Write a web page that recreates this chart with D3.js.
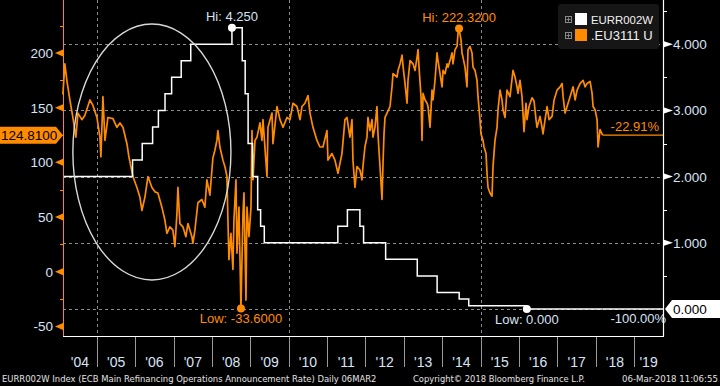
<!DOCTYPE html>
<html><head><meta charset="utf-8">
<script src="https://cdn.jsdelivr.net/npm/d3@7"></script>
<style>html,body{margin:0;padding:0;background:#000;overflow:hidden}svg{display:block}</style>
</head><body>
<svg id="c" width="720" height="386"></svg>
<script>
// ---------------- DATA ----------------
const seriesOrangeName = ".EU3111 U";
const seriesWhiteName = "EURR002W";
const xStart = "2004-02-13", xEnd = "2019-10-03";
// .EU3111 U (time as decimal year)
const orangeTimes = [2004.114,2004.166,2004.218,2004.296,2004.374,2004.453,2004.505,2004.609,2004.687,2004.818,2004.896,
2005.000,2005.078,2005.104,2005.156,2005.209,2005.287,2005.417,2005.521,2005.600,2005.678,2005.782,2005.834,2005.886,2005.938,
2006.043,2006.121,2006.173,2006.251,2006.330,2006.434,2006.512,2006.590,2006.694,2006.773,2006.825,2006.903,2006.981,
2007.033,2007.086,2007.112,2007.164,2007.242,2007.320,2007.372,2007.477,2007.503,2007.555,2007.633,2007.737,2007.815,2007.868,2007.946,
2008.024,2008.076,2008.128,2008.154,2008.206,2008.285,2008.337,2008.389,2008.415,2008.441,2008.493,2008.545,2008.571,2008.624,2008.650,2008.702,2008.754,2008.806,2008.832,2008.884,2008.910,2008.962,
2009.015,2009.041,2009.067,2009.119,2009.171,2009.249,2009.301,2009.327,2009.432,2009.458,2009.562,2009.588,2009.692,2009.771,2009.849,2009.953,
2010.031,2010.110,2010.214,2010.292,2010.344,2010.422,2010.501,2010.553,2010.631,2010.735,2010.813,2010.892,2010.996,
2011.022,2011.126,2011.204,2011.283,2011.387,2011.465,2011.517,2011.595,2011.648,2011.674,2011.726,2011.778,2011.856,2011.908,2011.934,2011.986,
2012.039,2012.065,2012.117,2012.169,2012.195,2012.247,2012.299,2012.325,2012.378,2012.430,2012.456,2012.482,2012.508,2012.560,2012.638,2012.690,2012.716,2012.821,2012.847,2012.899,2012.951,2012.977,
2013.029,2013.081,2013.107,2013.160,2013.238,2013.290,2013.342,2013.368,2013.394,2013.446,2013.472,2013.498,2013.551,2013.603,2013.629,2013.681,2013.733,2013.759,2013.811,2013.863,2013.889,2013.942,2013.994,
2014.020,2014.072,2014.124,2014.150,2014.202,2014.254,2014.280,2014.333,2014.385,2014.411,2014.437,2014.489,2014.515,2014.541,2014.593,2014.645,2014.671,2014.724,2014.776,2014.802,2014.854,2014.906,2014.932,2014.984,
2015.010,2015.063,2015.089,2015.141,2015.167,2015.193,2015.245,2015.297,2015.323,2015.375,2015.428,2015.454,2015.506,2015.558,2015.584,2015.636,2015.688,2015.766,2015.845,2015.897,2015.949,2015.975,
2016.027,2016.079,2016.105,2016.131,2016.183,2016.209,2016.262,2016.340,2016.392,2016.444,2016.470,2016.548,2016.600,2016.626,2016.679,2016.731,2016.783,2016.861,2016.913,2016.991,
2017.070,2017.122,2017.148,2017.200,2017.252,2017.330,2017.409,2017.461,2017.513,2017.591,2017.669,2017.721,2017.773,2017.852,2017.904,2017.930,2017.982,
2018.034,2018.060,2018.112,2018.178];
const orangeValues = [161.9,190,175,157,141,123,145,139,143,157,152,
141,123,105,160,120,141,140,132,136,132,117,105,96,87,
77,68,56,68,87,77,73,72,59,47,35,41,38,
23,53,77,44,41,32,44,32,26,38,63,66,59,84,70,
104,111,120,129,114,102,96,87,47,11,35,2,47,84,17,59,-33.6,53,72,-26,59,32,
59,129,84,120,123,136,120,139,87,132,145,117,151,139,132,141,
139,154,151,139,151,154,161,145,132,120,114,114,129,
102,108,102,90,108,139,141,123,139,102,77,96,93,84,96,114,
123,141,129,139,123,132,151,126,96,66,99,126,141,145,151,169,181,178,184,190,198,188,
172,154,175,193,190,184,196,203,187,160,120,163,157,154,151,132,166,157,175,200,193,181,169,
184,181,190,187,193,200,190,203,206,218,222.32,212,200,196,187,169,203,206,200,187,184,175,160,139,
126,120,114,108,90,77,72,69,96,120,132,148,166,157,148,141,166,160,184,178,169,163,
175,160,145,128,154,139,151,159,156,139,132,142,132,126,139,151,139,142,157,166,
169,172,160,145,151,160,169,157,166,172,175,169,172,174,163,151,148,
139,114,130,124.81];
// EURR002W - ECB main refinancing rate (step changes)
const rateDates = ["2004-02-13","2005-12-06","2006-03-08","2006-06-15","2006-08-09","2006-10-11","2006-12-13","2007-03-14","2007-06-13",
"2008-07-09","2008-10-15","2008-11-12","2008-12-10","2009-01-21","2009-03-11","2009-04-08","2009-05-13",
"2011-04-13","2011-07-13","2011-11-09","2011-12-14","2012-07-11","2013-05-08","2013-11-13","2014-06-11","2014-09-10","2016-03-16","2018-03-06"];
const rateValues = [2.00,2.25,2.50,2.75,3.00,3.25,3.50,3.75,4.00,
4.25,3.75,3.25,2.50,2.00,1.50,1.25,1.00,
1.25,1.50,1.25,1.00,0.75,0.50,0.25,0.15,0.05,0.00,0.00];
const yearLabels = ["'04","'05","'06","'07","'08","'09","'10","'11","'12","'13","'14","'15","'16","'17","'18","'19"];
const years = [2004,2005,2006,2007,2008,2009,2010,2011,2012,2013,2014,2015,2016,2017,2018,2019];
const gridYears = [2005,2010,2015];
const leftMajorTicks = [-50,0,50,100,150,200];
const leftMinorTicks = [-25,25,75,125,175,225];
const rightMajorTicks = [1,2,3,4];
const rightGridTicks = [0,1,2,3,4];
const rightMinorTicks = [0.5,1.5,2.5,3.5,4.5];
const leftDomain = [-58.8, 248.4];
const rightDomain = [-0.408, 4.668];
// hand-drawn ellipse annotation (bounding box in data units)
const ellipseTimes = [2004.374, 2008.493];
const ellipseValues = [-7.6, 226.4];
const footerLeft = "EURR002W Index (ECB Main Refinancing Operations Announcement Rate)  Daily 06MAR2";
const footerMid = "Copyright\u00A9 2018 Bloomberg Finance L.P.";
const footerRight = "06-Mar-2018 11:06:55";

// ---------------- RENDER ----------------
const ORANGE = "#ff8c00", WHITE = "#ffffff", LBLUE = "#d6e4f6", GRID = "#8c8c8c";
const L = 63, R = 663, T = 0, B = 336;
const FONT = "'Liberation Sans', Arial, sans-serif";
const svg = d3.select("#c");
svg.append("rect").attr("width",720).attr("height",386).attr("fill","#000");

const parse = d3.timeParse("%Y-%m-%d");
function decYear(t){const y=Math.floor(t);const s=new Date(y,0,1),e=new Date(y+1,0,1);return new Date(+s+(t-y)*(e-s));}
const x = d3.scaleTime().domain([parse(xStart), parse(xEnd)]).range([L, R]);
const yL = d3.scaleLinear().domain(leftDomain).range([B, T]);
const yR = d3.scaleLinear().domain(rightDomain).range([B, T]);

const orange = orangeTimes.map((t,i)=>({d:decYear(t), v:orangeValues[i]}));
const rate = rateDates.map((s,i)=>({d:parse(s), v:rateValues[i]}));

// gridlines
const g = svg.append("g");
g.selectAll("line.h").data(rightGridTicks).join("line")
  .attr("x1",L).attr("x2",R).attr("y1",d=>Math.round(yR(d))+0.5).attr("y2",d=>Math.round(yR(d))+0.5)
  .attr("stroke",GRID).attr("stroke-dasharray","3,3").attr("stroke-width",1);
g.selectAll("line.v").data(gridYears).join("line")
  .attr("x1",d=>Math.round(x(new Date(d,0,1)))+0.5).attr("x2",d=>Math.round(x(new Date(d,0,1)))+0.5)
  .attr("y1",T).attr("y2",B).attr("stroke",GRID).attr("stroke-dasharray","3,3").attr("stroke-width",1);

// orange series
const lineO = d3.line().x(d=>x(d.d)).y(d=>yL(d.v));
svg.append("path").datum(orange).attr("d",lineO).attr("fill","none")
  .attr("stroke",ORANGE).attr("stroke-width",1.7).attr("stroke-linejoin","round");
const lastO = orange[orange.length-1], firstO = orange[0];
svg.append("line").attr("x1",x(lastO.d)).attr("x2",R).attr("y1",yL(lastO.v)).attr("y2",yL(lastO.v))
  .attr("stroke",ORANGE).attr("stroke-width",1.3);

// white step series
const lineW = d3.line().curve(d3.curveStepAfter).x(d=>x(d.d)).y(d=>yR(d.v));
svg.append("path").datum(rate).attr("d",lineW).attr("fill","none")
  .attr("stroke",WHITE).attr("stroke-width",1.5);
const lastW = rate[rate.length-1], firstW = rate[0];
svg.append("line").attr("x1",x(lastW.d)).attr("x2",R).attr("y1",yR(lastW.v)).attr("y2",yR(lastW.v))
  .attr("stroke",WHITE).attr("stroke-width",1.5);

// ellipse
const ex0=x(decYear(ellipseTimes[0])), ex1=x(decYear(ellipseTimes[1]));
const ey0=yL(ellipseValues[1]), ey1=yL(ellipseValues[0]);
svg.append("ellipse").attr("cx",(ex0+ex1)/2).attr("cy",(ey0+ey1)/2)
  .attr("rx",(ex1-ex0)/2).attr("ry",(ey1-ey0)/2)
  .attr("fill","none").attr("stroke","#d8d8d8").attr("stroke-width",1.4);

// hi / low markers
const maxO = orange.reduce((a,b)=>b.v>a.v?b:a), minO = orange.reduce((a,b)=>b.v<a.v?b:a);
const maxW = rate.reduce((a,b)=>b.v>a.v?b:a), minW = rate.reduce((a,b)=>b.v<a.v?b:a);
function marker(px,py,col){svg.append("circle").attr("cx",px).attr("cy",py).attr("r",4).attr("fill",col);}
function txt(str,px,py,col,anchor,size){return svg.append("text").attr("x",px).attr("y",py).attr("fill",col)
  .attr("font-family",FONT).attr("font-size",size||13).attr("text-anchor",anchor||"start").text(str);}
marker(x(maxW.d),yR(maxW.v),WHITE);
txt("Hi: "+d3.format(".3f")(maxW.v), x(maxW.d), yR(maxW.v)-7, LBLUE, "middle");
marker(x(minW.d),yR(minW.v),WHITE);
txt("Low: "+d3.format(".3f")(minW.v), x(minW.d), yR(minW.v)+15, LBLUE, "middle");
marker(x(maxO.d),yL(maxO.v),ORANGE);
txt("Hi: "+d3.format(".4f")(maxO.v), x(maxO.d), yL(maxO.v)-7, ORANGE, "middle");
marker(x(minO.d),yL(minO.v),ORANGE);
txt("Low: "+d3.format(".4f")(minO.v).replace("−","-"), x(minO.d), yL(minO.v)+15, ORANGE, "middle");

// change labels
const pctO = (lastO.v/firstO.v-1)*100, pctW = (lastW.v/firstW.v-1)*100;
txt(d3.format(".2f")(pctO).replace("−","-")+"%", x(lastO.d)+8, yL(lastO.v)-4, ORANGE, "start");
txt(d3.format(".2f")(pctW).replace("−","-")+"%", x(lastW.d)+8, yR(lastW.v)+14, LBLUE, "start");

// frame / axes lines
svg.append("line").attr("x1",L+0.5).attr("x2",L+0.5).attr("y1",T).attr("y2",B).attr("stroke",ORANGE).attr("stroke-width",1);
svg.append("line").attr("x1",R+0.5).attr("x2",R+0.5).attr("y1",T).attr("y2",B+0.5).attr("stroke",WHITE).attr("stroke-width",1.2);
svg.append("line").attr("x1",L).attr("x2",R+1).attr("y1",B+0.5).attr("y2",B+0.5).attr("stroke",WHITE).attr("stroke-width",1);

// left axis ticks
leftMajorTicks.forEach(v=>{const yy=yL(v);
  svg.append("path").attr("d",`M${L},${yy-3.5}L${L},${yy+3.5}L${L-8},${yy}Z`).attr("fill",ORANGE);
  txt(String(v), L-10, yy+5, LBLUE, "end", 13.5);
});
leftMinorTicks.forEach(v=>{const yy=Math.round(yL(v))+0.5;
  svg.append("line").attr("x1",L-3).attr("x2",L).attr("y1",yy).attr("y2",yy).attr("stroke",ORANGE);});
// right axis ticks
rightMajorTicks.forEach(v=>{const yy=yR(v);
  svg.append("path").attr("d",`M${R+1},${yy-3}L${R+1},${yy+3}L${R+10},${yy}Z`).attr("fill",WHITE);
  txt(d3.format(".3f")(v), R+10, yy+5, LBLUE, "start", 13.5);
});
rightMinorTicks.forEach(v=>{const yy=Math.round(yR(v))+0.5;
  svg.append("line").attr("x1",R).attr("x2",R+4).attr("y1",yy).attr("y2",yy).attr("stroke",WHITE);});

// current value boxes
const cyO = yL(lastO.v);
svg.append("path").attr("d",`M0,${cyO-8.5}L${L-7},${cyO-8.5}L${L},${cyO}L${L-7},${cyO+8.5}L0,${cyO+8.5}Z`).attr("fill",ORANGE);
txt(d3.format(".4f")(lastO.v), 1, cyO+5, "#000", "start", 13.5);
const cyW = yR(lastW.v);
svg.append("path").attr("d",`M${R+2},${cyW}L${R+9},${cyW-9}L720,${cyW-9}L720,${cyW+9}L${R+9},${cyW+9}Z`).attr("fill",WHITE);
txt(d3.format(".3f")(lastW.v), R+10, cyW+5, "#000", "start", 13.5);

// x axis: year separators and labels
years.forEach((yr,i)=>{
  const s = Math.max(L, x(new Date(yr,0,1))), e = Math.min(R, x(new Date(yr+1,0,1)));
  if (yr>years[0]) svg.append("line").attr("x1",Math.round(s)+0.5).attr("x2",Math.round(s)+0.5)
     .attr("y1",B+1).attr("y2",B+31).attr("stroke","#9a9a9a").attr("stroke-width",1);
  txt(yearLabels[i], (s+e)/2, B+31, LBLUE, "middle", 14);
});

// legend
const lg = svg.append("g");
lg.append("rect").attr("x",558).attr("y",4).attr("width",101).attr("height",45).attr("rx",3).attr("fill","#161616");
[[seriesWhiteName,WHITE],[seriesOrangeName,ORANGE]].forEach((e,i)=>{
  const yy = 13 + i*16;
  lg.append("rect").attr("x",565.5).attr("y",yy+3.5).attr("width",6).attr("height",6).attr("fill","none").attr("stroke","#8a8a8a").attr("stroke-width",1);
  lg.append("path").attr("d",`M566.5,${yy+6.5}h4M568.5,${yy+4.5}v4`).attr("stroke","#8a8a8a").attr("stroke-width",1);
  lg.append("rect").attr("x",575).attr("y",yy).attr("width",12).attr("height",12).attr("fill",e[1]);
  const t = lg.append("text").attr("x",591).attr("y",yy+11).attr("fill","#f2f2f2").attr("font-family",FONT)
    .attr("font-size",13).text(e[0]);
  const w = t.node().getComputedTextLength();
  if (w > 62) t.attr("font-size", 13*62/w);
});

// footer: fit font size to the widths seen in the reference
function foot(str,px,len){
  const t = svg.append("text").attr("x",px).attr("y",382).attr("fill","#e2e2e2")
    .attr("font-family","'DejaVu Sans Condensed','Liberation Sans Narrow','DejaVu Sans',sans-serif").attr("font-size",11).text(str);
  const w = t.node().getComputedTextLength();
  if (w > len) t.attr("font-size", 11*len/w);
}
foot(footerLeft,2,375);
foot(footerMid,413,172);
foot(footerRight,622,96);
</script>
</body></html>
